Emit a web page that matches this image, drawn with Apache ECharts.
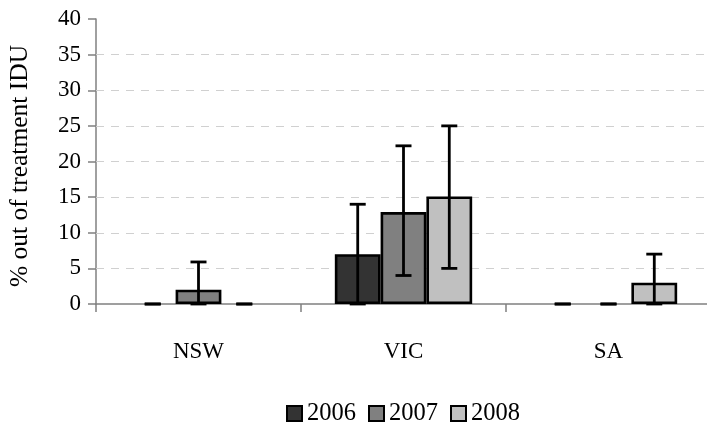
<!DOCTYPE html>
<html>
<head>
<meta charset="utf-8">
<style>
  html, body { margin: 0; padding: 0; background: #fff; }
  #chart { width: 707px; height: 428px; }
</style>
<script src="https://cdn.jsdelivr.net/npm/echarts@6/dist/echarts.min.js"></script>
</head>
<body>
<div id="chart"></div>
<script>
// States and survey years
const categories = ['NSW', 'VIC', 'SA'];
const years = ['2006', '2007', '2008'];

// % out of treatment IDU, per year
const values2006 = [0, 7, 0];
const values2007 = [2, 12.9, 0];
const values2008 = [0, 15.1, 3];

// Error bar bounds (lower / upper), per year
const low2006 = [0, 0, 0];
const high2006 = [0, 14, 0];
const low2007 = [0, 4, 0];
const high2007 = [5.9, 22.2, 0];
const low2008 = [0, 5, 0];
const high2008 = [0, 25, 7];

// Dashed reference lines
const gridValues = [5, 10, 15, 20, 25, 30, 35];

const barColors = ['#333333', '#808080', '#c0c0c0'];
const FONT = 'Liberation Serif';
const CAT_GAP = 0.33;

const seriesValues = [values2006, values2007, values2008];
const seriesLow = [low2006, low2007, low2008];
const seriesHigh = [high2006, high2007, high2008];

function barData(vals) {
  // zero-height bars get no outline
  return vals.map(v => v === 0 ? { value: v, itemStyle: { borderWidth: 0 } } : v);
}

function errorRenderer(seriesIdx) {
  return function (params, api) {
    const cat = api.value(0);
    const band = api.size([1, 0])[0];
    const barW = band * (1 - CAT_GAP) / 3;
    const offset = (seriesIdx - 1) * barW;
    const pLow = api.coord([cat, api.value(1)]);
    const pHigh = api.coord([cat, api.value(2)]);
    const x = pLow[0] + offset;
    const cap = 8;
    const style = { stroke: '#000', lineWidth: 2.8 };
    return {
      type: 'group',
      children: [
        { type: 'line', shape: { x1: x, y1: pLow[1], x2: x, y2: pHigh[1] }, style },
        { type: 'line', shape: { x1: x - cap, y1: pHigh[1], x2: x + cap, y2: pHigh[1] }, style },
        { type: 'line', shape: { x1: x - cap, y1: pLow[1], x2: x + cap, y2: pLow[1] }, style }
      ]
    };
  };
}

const series = [];
years.forEach((yr, i) => {
  const s = {
    name: yr,
    type: 'bar',
    data: barData(seriesValues[i]),
    barGap: '0%',
    barCategoryGap: (CAT_GAP * 100) + '%',
    itemStyle: { color: barColors[i], borderColor: '#000', borderWidth: 2.6 },
    z: 2,
    silent: true
  };
  if (i === 0) {
    s.markLine = {
      silent: true,
      symbol: 'none',
      z: 1,
      label: { show: false },
      lineStyle: { color: '#d0d0d0', type: [8, 7], width: 1 },
      data: gridValues.map(v => ({ yAxis: v }))
    };
  }
  series.push(s);
});
years.forEach((yr, i) => {
  series.push({
    type: 'custom',
    renderItem: errorRenderer(i),
    encode: { x: 0, y: [1, 2] },
    data: categories.map((c, k) => [k, seriesLow[i][k], seriesHigh[i][k]]),
    z: 5,
    silent: true
  });
});

const chart = echarts.init(document.getElementById('chart'), null, { renderer: 'canvas' });
chart.setOption({
  animation: false,
  backgroundColor: '#ffffff',
  textStyle: { fontFamily: FONT, color: '#000' },
  grid: {
    left: 96, top: 19, width: 615, height: 285,
    containLabel: false,
    outerBoundsMode: 'none'
  },
  legend: {
    data: years,
    left: 281,
    top: 396,
    icon: 'rect',
    itemWidth: 15,
    itemHeight: 15,
    itemGap: 12,
    textStyle: { fontFamily: FONT, fontSize: 24.5, color: '#000', padding: [0, 0, 0, 0] }
  },
  xAxis: {
    type: 'category',
    data: categories,
    boundaryGap: true,
    axisLine: { lineStyle: { color: '#808080', width: 1.5 } },
    axisTick: { show: true, length: 8, lineStyle: { color: '#808080', width: 1.5 } },
    axisLabel: { margin: 36, fontFamily: FONT, fontSize: 23, color: '#000' },
    splitLine: { show: false }
  },
  yAxis: {
    type: 'value',
    min: 0,
    max: 40,
    interval: 5,
    name: '% out of treatment IDU',
    nameLocation: 'middle',
    nameRotate: 90,
    nameGap: 63,
    nameTextStyle: { fontFamily: FONT, fontSize: 25.5, color: '#000', padding: [0, 9, 0, 0] },
    axisLine: { show: true, lineStyle: { color: '#808080', width: 1.5 } },
    axisTick: { show: true, length: 8, lineStyle: { color: '#808080', width: 1.5 } },
    axisLabel: { margin: 15, fontFamily: FONT, fontSize: 23, color: '#000' },
    splitLine: { show: false }
  },
  series
});
</script>
</body>
</html>
